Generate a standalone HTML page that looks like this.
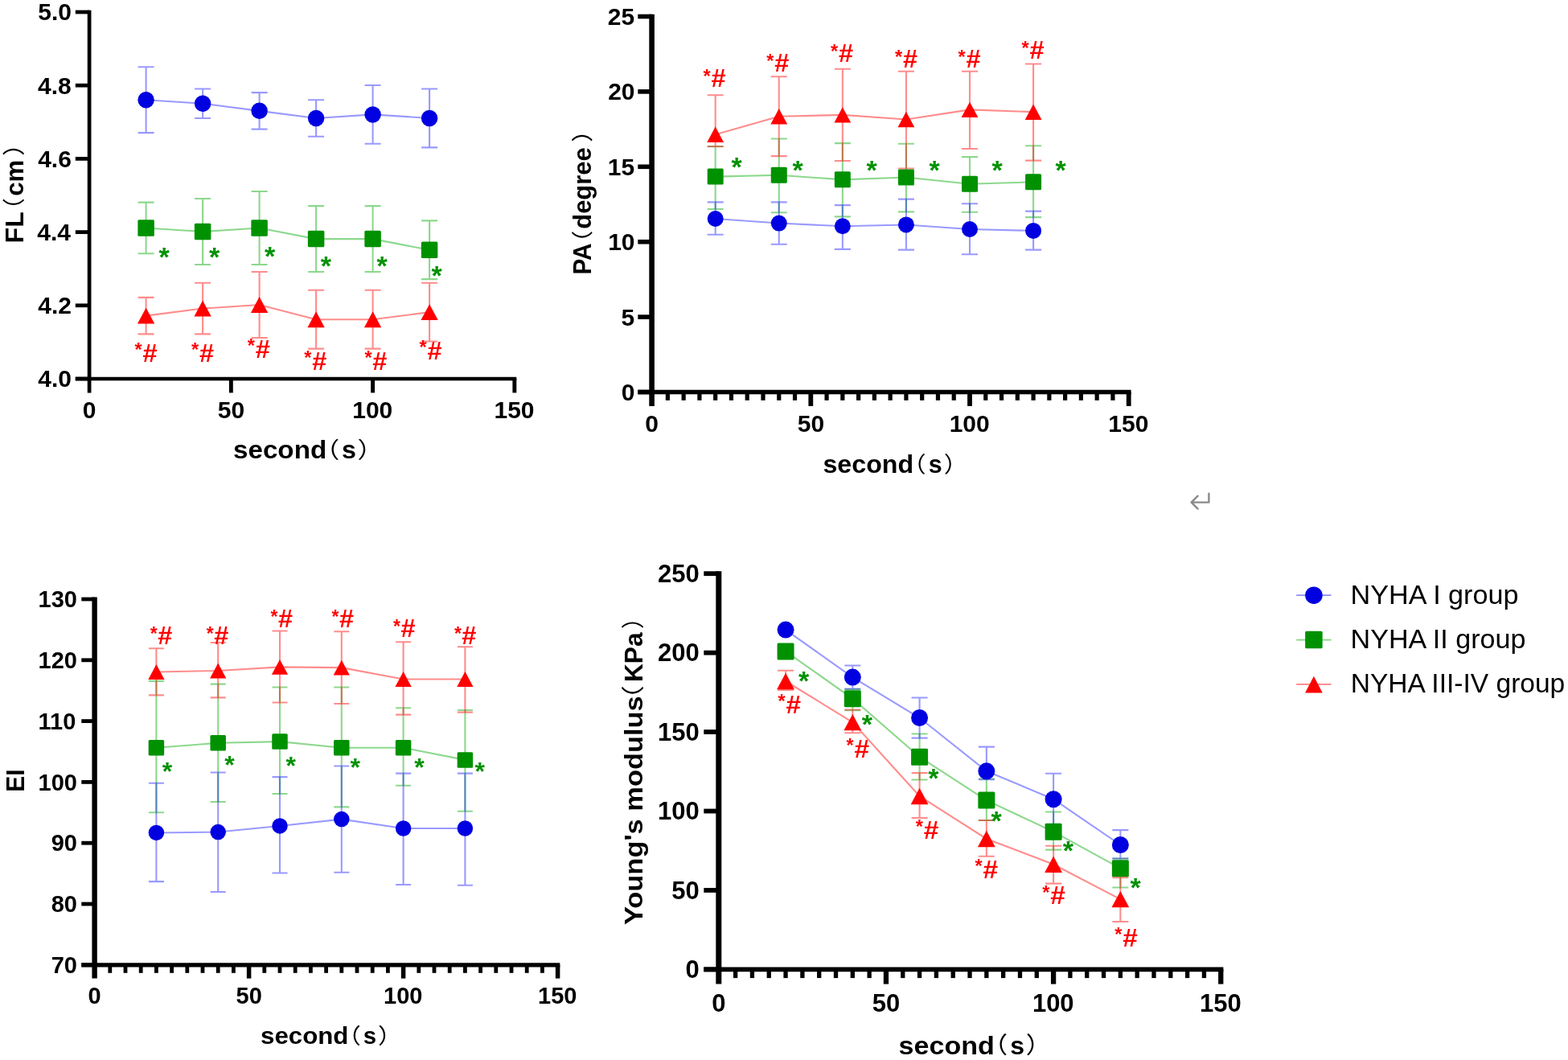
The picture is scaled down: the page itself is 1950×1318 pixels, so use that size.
<!DOCTYPE html><html><head><meta charset="utf-8"><title>Figure</title><style>html,body{margin:0;padding:0;background:#fff;overflow:hidden;}svg{display:block;}</style></head><body>
<svg width="1950" height="1318" viewBox="0 0 1950 1318">
<rect width="1950" height="1318" fill="#fff"/>
<g stroke="#000" fill="none">
<line x1="111.1" y1="12.65" x2="111.1" y2="488.4" stroke-width="4.7"/>
<line x1="93.8" y1="471" x2="642.3" y2="471" stroke-width="4.6"/>
<line x1="93.8" y1="471" x2="111.1" y2="471" stroke-width="4.7"/>
<line x1="93.8" y1="379.8" x2="111.1" y2="379.8" stroke-width="4.7"/>
<line x1="93.8" y1="288.6" x2="111.1" y2="288.6" stroke-width="4.7"/>
<line x1="93.8" y1="197.4" x2="111.1" y2="197.4" stroke-width="4.7"/>
<line x1="93.8" y1="106.2" x2="111.1" y2="106.2" stroke-width="4.7"/>
<line x1="93.8" y1="15" x2="111.1" y2="15" stroke-width="4.7"/>
<line x1="287.35" y1="471" x2="287.35" y2="488.4" stroke-width="4.9"/>
<line x1="463.6" y1="471" x2="463.6" y2="488.4" stroke-width="4.9"/>
<line x1="639.85" y1="471" x2="639.85" y2="488.4" stroke-width="4.9"/>
</g>
<g font-family='"Liberation Sans", Arial, sans-serif' fill="#000">
<text x="47.33" y="481.47" font-size="30" font-weight="bold">4.0</text>
<text x="47.3" y="390.27" font-size="30" font-weight="bold">4.2</text>
<text x="46.26" y="299.07" font-size="30" font-weight="bold">4.4</text>
<text x="47.18" y="207.87" font-size="30" font-weight="bold">4.6</text>
<text x="47.02" y="116.67" font-size="30" font-weight="bold">4.8</text>
<text x="47.33" y="25.47" font-size="30" font-weight="bold">5.0</text>
<text x="102.78" y="520.44" font-size="30" font-weight="bold">0</text>
<text x="270.82" y="520.44" font-size="30" font-weight="bold">50</text>
<text x="438.24" y="520.44" font-size="30" font-weight="bold">100</text>
<text x="614.49" y="520.44" font-size="30" font-weight="bold">150</text>
<text x="290.03" y="569.8" font-size="31" font-weight="bold" textLength="116.15" lengthAdjust="spacingAndGlyphs">second</text>
<text x="390.23" y="568.75" font-size="27.63" font-family='"Liberation Sans", "Noto Sans CJK SC", sans-serif' textLength="32.05" lengthAdjust="spacingAndGlyphs">（</text>
<text x="425.06" y="569.8" font-size="31" font-weight="bold" textLength="17.96" lengthAdjust="spacingAndGlyphs">s</text>
<text x="444.63" y="568.75" font-size="27.63" font-family='"Liberation Sans", "Noto Sans CJK SC", sans-serif' textLength="32.05" lengthAdjust="spacingAndGlyphs">）</text>
</g>
<g transform="translate(28.6,302) rotate(-90)" font-family='"Liberation Sans", Arial, sans-serif' fill="#000">
<text x="-0.44" y="0" font-size="31.5" font-weight="bold" textLength="39.13" lengthAdjust="spacingAndGlyphs">FL</text>
<text x="27.24" y="-0.68" font-size="27.94" font-family='"Liberation Sans", "Noto Sans CJK SC", sans-serif' textLength="28.57" lengthAdjust="spacingAndGlyphs">（</text>
<text x="58.18" y="0" font-size="31.5" font-weight="bold" textLength="45.05" lengthAdjust="spacingAndGlyphs">cm</text>
<text x="107.91" y="-0.68" font-size="27.94" font-family='"Liberation Sans", "Noto Sans CJK SC", sans-serif' textLength="30.12" lengthAdjust="spacingAndGlyphs">）</text>
</g>
<g stroke="#00a800" stroke-opacity="0.45" stroke-width="2.1" fill="none">
<path d="M181.6 251.6V315.3M171.6 251.6H191.6M171.6 315.3H191.6"/>
<path d="M252.1 247.05V328.95M242.1 247.05H262.1M242.1 328.95H262.1"/>
<path d="M322.6 237.95V328.95M312.6 237.95H332.6M312.6 328.95H332.6"/>
<path d="M393.1 256.15V338.05M383.1 256.15H403.1M383.1 338.05H403.1"/>
<path d="M463.6 256.15V338.05M453.6 256.15H473.6M453.6 338.05H473.6"/>
<path d="M534.1 274.35V347.15M524.1 274.35H544.1M524.1 347.15H544.1"/>
<polyline points="181.6,283.45 252.1,288 322.6,283.45 393.1,297.1 463.6,297.1 534.1,310.75"/>
</g>
<g stroke="#ff0000" stroke-opacity="0.45" stroke-width="2.1" fill="none">
<path d="M181.6 369.9V415.4M171.6 369.9H191.6M171.6 415.4H191.6"/>
<path d="M252.1 351.7V415.4M242.1 351.7H262.1M242.1 415.4H262.1"/>
<path d="M322.6 338.05V419.95M312.6 338.05H332.6M312.6 419.95H332.6"/>
<path d="M393.1 360.8V433.6M383.1 360.8H403.1M383.1 433.6H403.1"/>
<path d="M463.6 360.8V433.6M453.6 360.8H473.6M453.6 433.6H473.6"/>
<path d="M534.1 351.7V424.5M524.1 351.7H544.1M524.1 424.5H544.1"/>
<polyline points="181.6,392.65 252.1,383.55 322.6,379 393.1,397.2 463.6,397.2 534.1,388.1"/>
</g>
<g stroke="#0000ff" stroke-opacity="0.4" stroke-width="2.1" fill="none">
<path d="M181.6 83.25V165.15M171.6 83.25H191.6M171.6 165.15H191.6"/>
<path d="M252.1 110.55V146.95M242.1 110.55H262.1M242.1 146.95H262.1"/>
<path d="M322.6 115.1V160.6M312.6 115.1H332.6M312.6 160.6H332.6"/>
<path d="M393.1 124.2V169.7M383.1 124.2H403.1M383.1 169.7H403.1"/>
<path d="M463.6 106V178.8M453.6 106H473.6M453.6 178.8H473.6"/>
<path d="M534.1 110.55V183.35M524.1 110.55H544.1M524.1 183.35H544.1"/>
<polyline points="181.6,124.2 252.1,128.75 322.6,137.85 393.1,146.95 463.6,142.4 534.1,146.95"/>
</g>
<g fill="#0000e0">
<circle cx="181.6" cy="124.2" r="10.25"/>
<circle cx="252.1" cy="128.75" r="10.25"/>
<circle cx="322.6" cy="137.85" r="10.25"/>
<circle cx="393.1" cy="146.95" r="10.25"/>
<circle cx="463.6" cy="142.4" r="10.25"/>
<circle cx="534.1" cy="146.95" r="10.25"/>
</g>
<g fill="#009100">
<rect x="171.35" y="273.2" width="20.5" height="20.5" rx="1.5"/>
<rect x="241.85" y="277.75" width="20.5" height="20.5" rx="1.5"/>
<rect x="312.35" y="273.2" width="20.5" height="20.5" rx="1.5"/>
<rect x="382.85" y="286.85" width="20.5" height="20.5" rx="1.5"/>
<rect x="453.35" y="286.85" width="20.5" height="20.5" rx="1.5"/>
<rect x="523.85" y="300.5" width="20.5" height="20.5" rx="1.5"/>
</g>
<g fill="#ff0000">
<path d="M181.6 382.71L192.26 402.59L170.94 402.59Z"/>
<path d="M252.1 373.61L262.76 393.49L241.44 393.49Z"/>
<path d="M322.6 369.06L333.26 388.94L311.94 388.94Z"/>
<path d="M393.1 387.26L403.76 407.14L382.44 407.14Z"/>
<path d="M463.6 387.26L474.26 407.14L452.94 407.14Z"/>
<path d="M534.1 378.16L544.76 398.04L523.44 398.04Z"/>
</g>
<g font-family='"Liberation Sans", Arial, sans-serif' font-weight="bold" font-size="34" fill="#009100">
<text x="197.4" y="330.89">*</text>
<text x="259.9" y="330.89">*</text>
<text x="329" y="330.39">*</text>
<text x="398.7" y="341.89">*</text>
<text x="468.4" y="341.89">*</text>
<text x="536.6" y="354.39">*</text>
</g>
<g font-family='"Liberation Sans", Arial, sans-serif' font-size="31.5" fill="#ff0000">
<text x="177.45" y="449.95" font-weight="bold" textLength="18.07" lengthAdjust="spacingAndGlyphs">#</text>
<text x="167.5" y="443.17" font-size="23.5" font-weight="bold">*</text>
<text x="247.95" y="449.95" font-weight="bold" textLength="18.07" lengthAdjust="spacingAndGlyphs">#</text>
<text x="238" y="443.17" font-size="23.5" font-weight="bold">*</text>
<text x="317.65" y="445.25" font-weight="bold" textLength="18.07" lengthAdjust="spacingAndGlyphs">#</text>
<text x="307.7" y="438.47" font-size="23.5" font-weight="bold">*</text>
<text x="388.25" y="460.25" font-weight="bold" textLength="18.07" lengthAdjust="spacingAndGlyphs">#</text>
<text x="378.3" y="453.47" font-size="23.5" font-weight="bold">*</text>
<text x="463.35" y="460.25" font-weight="bold" textLength="18.07" lengthAdjust="spacingAndGlyphs">#</text>
<text x="453.4" y="453.47" font-size="23.5" font-weight="bold">*</text>
<text x="531.55" y="446.95" font-weight="bold" textLength="18.07" lengthAdjust="spacingAndGlyphs">#</text>
<text x="521.6" y="440.17" font-size="23.5" font-weight="bold">*</text>
</g>
<g stroke="#000" fill="none">
<line x1="810.6" y1="17.7" x2="810.6" y2="504.9" stroke-width="6.6"/>
<line x1="793.3" y1="487.5" x2="1406.6" y2="487.5" stroke-width="5.6"/>
<line x1="793.3" y1="487.5" x2="810.6" y2="487.5" stroke-width="5.6"/>
<line x1="793.3" y1="394.1" x2="810.6" y2="394.1" stroke-width="5.6"/>
<line x1="793.3" y1="300.7" x2="810.6" y2="300.7" stroke-width="5.6"/>
<line x1="793.3" y1="207.3" x2="810.6" y2="207.3" stroke-width="5.6"/>
<line x1="793.3" y1="113.9" x2="810.6" y2="113.9" stroke-width="5.6"/>
<line x1="793.3" y1="20.5" x2="810.6" y2="20.5" stroke-width="5.6"/>
<line x1="1008.3" y1="487.5" x2="1008.3" y2="504.9" stroke-width="5.8"/>
<line x1="1206" y1="487.5" x2="1206" y2="504.9" stroke-width="5.8"/>
<line x1="1403.7" y1="487.5" x2="1403.7" y2="504.9" stroke-width="5.8"/>
<line x1="830.37" y1="487.5" x2="830.37" y2="497.8" stroke-width="5.2"/>
<line x1="850.14" y1="487.5" x2="850.14" y2="497.8" stroke-width="5.2"/>
<line x1="869.91" y1="487.5" x2="869.91" y2="497.8" stroke-width="5.2"/>
<line x1="889.68" y1="487.5" x2="889.68" y2="497.8" stroke-width="5.2"/>
<line x1="909.45" y1="487.5" x2="909.45" y2="497.8" stroke-width="5.2"/>
<line x1="929.22" y1="487.5" x2="929.22" y2="497.8" stroke-width="5.2"/>
<line x1="948.99" y1="487.5" x2="948.99" y2="497.8" stroke-width="5.2"/>
<line x1="968.76" y1="487.5" x2="968.76" y2="497.8" stroke-width="5.2"/>
<line x1="988.53" y1="487.5" x2="988.53" y2="497.8" stroke-width="5.2"/>
<line x1="1028.07" y1="487.5" x2="1028.07" y2="497.8" stroke-width="5.2"/>
<line x1="1047.84" y1="487.5" x2="1047.84" y2="497.8" stroke-width="5.2"/>
<line x1="1067.61" y1="487.5" x2="1067.61" y2="497.8" stroke-width="5.2"/>
<line x1="1087.38" y1="487.5" x2="1087.38" y2="497.8" stroke-width="5.2"/>
<line x1="1107.15" y1="487.5" x2="1107.15" y2="497.8" stroke-width="5.2"/>
<line x1="1126.92" y1="487.5" x2="1126.92" y2="497.8" stroke-width="5.2"/>
<line x1="1146.69" y1="487.5" x2="1146.69" y2="497.8" stroke-width="5.2"/>
<line x1="1166.46" y1="487.5" x2="1166.46" y2="497.8" stroke-width="5.2"/>
<line x1="1186.23" y1="487.5" x2="1186.23" y2="497.8" stroke-width="5.2"/>
<line x1="1225.77" y1="487.5" x2="1225.77" y2="497.8" stroke-width="5.2"/>
<line x1="1245.54" y1="487.5" x2="1245.54" y2="497.8" stroke-width="5.2"/>
<line x1="1265.31" y1="487.5" x2="1265.31" y2="497.8" stroke-width="5.2"/>
<line x1="1285.08" y1="487.5" x2="1285.08" y2="497.8" stroke-width="5.2"/>
<line x1="1304.85" y1="487.5" x2="1304.85" y2="497.8" stroke-width="5.2"/>
<line x1="1324.62" y1="487.5" x2="1324.62" y2="497.8" stroke-width="5.2"/>
<line x1="1344.39" y1="487.5" x2="1344.39" y2="497.8" stroke-width="5.2"/>
<line x1="1364.16" y1="487.5" x2="1364.16" y2="497.8" stroke-width="5.2"/>
<line x1="1383.93" y1="487.5" x2="1383.93" y2="497.8" stroke-width="5.2"/>
</g>
<g font-family='"Liberation Sans", Arial, sans-serif' fill="#000">
<text x="772.85" y="497.97" font-size="30" font-weight="bold">0</text>
<text x="772.45" y="404.57" font-size="30" font-weight="bold">5</text>
<text x="756.16" y="311.17" font-size="30" font-weight="bold">10</text>
<text x="755.77" y="217.77" font-size="30" font-weight="bold">15</text>
<text x="756.16" y="124.37" font-size="30" font-weight="bold">20</text>
<text x="755.77" y="30.97" font-size="30" font-weight="bold">25</text>
<text x="802.28" y="537.44" font-size="30" font-weight="bold">0</text>
<text x="991.77" y="537.44" font-size="30" font-weight="bold">50</text>
<text x="1180.64" y="537.44" font-size="30" font-weight="bold">100</text>
<text x="1378.34" y="537.44" font-size="30" font-weight="bold">150</text>
<text x="1023.47" y="588" font-size="30.5" font-weight="bold" textLength="112.65" lengthAdjust="spacingAndGlyphs">second</text>
<text x="1121.57" y="587.3" font-size="27.1" font-family='"Liberation Sans", "Noto Sans CJK SC", sans-serif' textLength="30.12" lengthAdjust="spacingAndGlyphs">（</text>
<text x="1154.63" y="588" font-size="30.5" font-weight="bold" textLength="16.92" lengthAdjust="spacingAndGlyphs">s</text>
<text x="1173.83" y="587.3" font-size="27.1" font-family='"Liberation Sans", "Noto Sans CJK SC", sans-serif' textLength="29.73" lengthAdjust="spacingAndGlyphs">）</text>
</g>
<g transform="translate(735.3,341) rotate(-90)" font-family='"Liberation Sans", Arial, sans-serif' fill="#000">
<text x="-0.58" y="0" font-size="31" font-weight="bold" textLength="39.13" lengthAdjust="spacingAndGlyphs">PA</text>
<text x="24.91" y="-0.98" font-size="26.89" font-family='"Liberation Sans", "Noto Sans CJK SC", sans-serif' textLength="29.34" lengthAdjust="spacingAndGlyphs">（</text>
<text x="56.23" y="0" font-size="31" font-weight="bold" textLength="101.53" lengthAdjust="spacingAndGlyphs">degree</text>
<text x="164.23" y="-0.98" font-size="26.89" font-family='"Liberation Sans", "Noto Sans CJK SC", sans-serif' textLength="29.73" lengthAdjust="spacingAndGlyphs">）</text>
</g>
<g stroke="#00a800" stroke-opacity="0.45" stroke-width="2.1" fill="none">
<path d="M889.68 182V259.98M879.68 182H899.68M879.68 259.98H899.68"/>
<path d="M968.76 172.47V264.28M958.76 172.47H978.76M958.76 264.28H978.76"/>
<path d="M1047.84 178.08V269.33M1037.84 178.08H1057.84M1037.84 269.33H1057.84"/>
<path d="M1126.92 178.82V263.35M1116.92 178.82H1136.92M1116.92 263.35H1136.92"/>
<path d="M1206 195.09V263.72M1196 195.09H1216M1196 263.72H1216"/>
<path d="M1285.08 181.25V270.08M1275.08 181.25H1295.08M1275.08 270.08H1295.08"/>
<polyline points="889.68,219.59 968.76,217.72 1047.84,223.33 1126.92,220.53 1206,228.75 1285.08,226.32"/>
</g>
<g stroke="#ff0000" stroke-opacity="0.45" stroke-width="2.1" fill="none">
<path d="M889.68 118.24V182.19M879.68 118.24H899.68M879.68 182.19H899.68"/>
<path d="M968.76 95.24V194.16M958.76 95.24H978.76M958.76 194.16H978.76"/>
<path d="M1047.84 85.7V199.96M1037.84 85.7H1057.84M1037.84 199.96H1057.84"/>
<path d="M1126.92 88.69V209.49M1116.92 88.69H1136.92M1116.92 209.49H1136.92"/>
<path d="M1206 88.69V185M1196 88.69H1216M1196 185H1216"/>
<path d="M1285.08 79.53V199.58M1275.08 79.53H1295.08M1275.08 199.58H1295.08"/>
<polyline points="889.68,167.23 968.76,144.79 1047.84,142.92 1126.92,148.53 1206,136.38 1285.08,139.18"/>
</g>
<g stroke="#0000ff" stroke-opacity="0.4" stroke-width="2.1" fill="none">
<path d="M889.68 251.38V291.77M879.68 251.38H899.68M879.68 291.77H899.68"/>
<path d="M968.76 251.38V303.74M958.76 251.38H978.76M958.76 303.74H978.76"/>
<path d="M1047.84 255.12V309.91M1037.84 255.12H1057.84M1037.84 309.91H1057.84"/>
<path d="M1126.92 247.64V310.66M1116.92 247.64H1136.92M1116.92 310.66H1136.92"/>
<path d="M1206 253.25V316.27M1196 253.25H1216M1196 316.27H1216"/>
<path d="M1285.08 262.6V310.66M1275.08 262.6H1295.08M1275.08 310.66H1295.08"/>
<polyline points="889.68,271.95 968.76,277.56 1047.84,281.3 1126.92,279.43 1206,285.04 1285.08,286.91"/>
</g>
<g fill="#0000e0">
<circle cx="889.68" cy="271.95" r="10"/>
<circle cx="968.76" cy="277.56" r="10"/>
<circle cx="1047.84" cy="281.3" r="10"/>
<circle cx="1126.92" cy="279.43" r="10"/>
<circle cx="1206" cy="285.04" r="10"/>
<circle cx="1285.08" cy="286.91" r="10"/>
</g>
<g fill="#009100">
<rect x="879.68" y="209.59" width="20" height="20" rx="1.5"/>
<rect x="958.76" y="207.72" width="20" height="20" rx="1.5"/>
<rect x="1037.84" y="213.33" width="20" height="20" rx="1.5"/>
<rect x="1116.92" y="210.53" width="20" height="20" rx="1.5"/>
<rect x="1196" y="218.75" width="20" height="20" rx="1.5"/>
<rect x="1275.08" y="216.32" width="20" height="20" rx="1.5"/>
</g>
<g fill="#ff0000">
<path d="M889.68 157.53L900.08 176.93L879.28 176.93Z"/>
<path d="M968.76 135.09L979.16 154.49L958.36 154.49Z"/>
<path d="M1047.84 133.22L1058.24 152.62L1037.44 152.62Z"/>
<path d="M1126.92 138.83L1137.32 158.23L1116.52 158.23Z"/>
<path d="M1206 126.67L1216.4 146.07L1195.6 146.07Z"/>
<path d="M1285.08 129.48L1295.48 148.88L1274.68 148.88Z"/>
</g>
<g font-family='"Liberation Sans", Arial, sans-serif' font-weight="bold" font-size="34" fill="#009100">
<text x="909.4" y="218.89">*</text>
<text x="985.4" y="222.89">*</text>
<text x="1077.4" y="222.89">*</text>
<text x="1155.4" y="222.89">*</text>
<text x="1233.4" y="222.89">*</text>
<text x="1312.4" y="222.89">*</text>
</g>
<g font-family='"Liberation Sans", Arial, sans-serif' font-size="31.5" fill="#ff0000">
<text x="884.45" y="108.45" font-weight="bold" textLength="18.07" lengthAdjust="spacingAndGlyphs">#</text>
<text x="874.5" y="103.17" font-size="23.5" font-weight="bold">*</text>
<text x="963.25" y="89.45" font-weight="bold" textLength="18.07" lengthAdjust="spacingAndGlyphs">#</text>
<text x="953.3" y="84.17" font-size="23.5" font-weight="bold">*</text>
<text x="1042.95" y="76.95" font-weight="bold" textLength="18.07" lengthAdjust="spacingAndGlyphs">#</text>
<text x="1033" y="71.67" font-size="23.5" font-weight="bold">*</text>
<text x="1122.95" y="84.45" font-weight="bold" textLength="18.07" lengthAdjust="spacingAndGlyphs">#</text>
<text x="1113" y="79.17" font-size="23.5" font-weight="bold">*</text>
<text x="1201.45" y="83.95" font-weight="bold" textLength="18.07" lengthAdjust="spacingAndGlyphs">#</text>
<text x="1191.5" y="78.67" font-size="23.5" font-weight="bold">*</text>
<text x="1280.45" y="72.95" font-weight="bold" textLength="18.07" lengthAdjust="spacingAndGlyphs">#</text>
<text x="1270.5" y="67.67" font-size="23.5" font-weight="bold">*</text>
</g>
<g stroke="#000" fill="none">
<line x1="117.6" y1="742.6" x2="117.6" y2="1216.6" stroke-width="6.4"/>
<line x1="101.3" y1="1199.8" x2="696.35" y2="1199.8" stroke-width="5.2"/>
<line x1="101.3" y1="1199.8" x2="117.6" y2="1199.8" stroke-width="4.8"/>
<line x1="101.3" y1="1124" x2="117.6" y2="1124" stroke-width="4.8"/>
<line x1="101.3" y1="1048.2" x2="117.6" y2="1048.2" stroke-width="4.8"/>
<line x1="101.3" y1="972.4" x2="117.6" y2="972.4" stroke-width="4.8"/>
<line x1="101.3" y1="896.6" x2="117.6" y2="896.6" stroke-width="4.8"/>
<line x1="101.3" y1="820.8" x2="117.6" y2="820.8" stroke-width="4.8"/>
<line x1="101.3" y1="745" x2="117.6" y2="745" stroke-width="4.8"/>
<line x1="309.6" y1="1199.8" x2="309.6" y2="1216.6" stroke-width="5.5"/>
<line x1="501.6" y1="1199.8" x2="501.6" y2="1216.6" stroke-width="5.5"/>
<line x1="693.6" y1="1199.8" x2="693.6" y2="1216.6" stroke-width="5.5"/>
<line x1="136.8" y1="1199.8" x2="136.8" y2="1209.8" stroke-width="4.8"/>
<line x1="156" y1="1199.8" x2="156" y2="1209.8" stroke-width="4.8"/>
<line x1="175.2" y1="1199.8" x2="175.2" y2="1209.8" stroke-width="4.8"/>
<line x1="194.4" y1="1199.8" x2="194.4" y2="1209.8" stroke-width="4.8"/>
<line x1="213.6" y1="1199.8" x2="213.6" y2="1209.8" stroke-width="4.8"/>
<line x1="232.8" y1="1199.8" x2="232.8" y2="1209.8" stroke-width="4.8"/>
<line x1="252" y1="1199.8" x2="252" y2="1209.8" stroke-width="4.8"/>
<line x1="271.2" y1="1199.8" x2="271.2" y2="1209.8" stroke-width="4.8"/>
<line x1="290.4" y1="1199.8" x2="290.4" y2="1209.8" stroke-width="4.8"/>
<line x1="328.8" y1="1199.8" x2="328.8" y2="1209.8" stroke-width="4.8"/>
<line x1="348" y1="1199.8" x2="348" y2="1209.8" stroke-width="4.8"/>
<line x1="367.2" y1="1199.8" x2="367.2" y2="1209.8" stroke-width="4.8"/>
<line x1="386.4" y1="1199.8" x2="386.4" y2="1209.8" stroke-width="4.8"/>
<line x1="405.6" y1="1199.8" x2="405.6" y2="1209.8" stroke-width="4.8"/>
<line x1="424.8" y1="1199.8" x2="424.8" y2="1209.8" stroke-width="4.8"/>
<line x1="444" y1="1199.8" x2="444" y2="1209.8" stroke-width="4.8"/>
<line x1="463.2" y1="1199.8" x2="463.2" y2="1209.8" stroke-width="4.8"/>
<line x1="482.4" y1="1199.8" x2="482.4" y2="1209.8" stroke-width="4.8"/>
<line x1="520.8" y1="1199.8" x2="520.8" y2="1209.8" stroke-width="4.8"/>
<line x1="540" y1="1199.8" x2="540" y2="1209.8" stroke-width="4.8"/>
<line x1="559.2" y1="1199.8" x2="559.2" y2="1209.8" stroke-width="4.8"/>
<line x1="578.4" y1="1199.8" x2="578.4" y2="1209.8" stroke-width="4.8"/>
<line x1="597.6" y1="1199.8" x2="597.6" y2="1209.8" stroke-width="4.8"/>
<line x1="616.8" y1="1199.8" x2="616.8" y2="1209.8" stroke-width="4.8"/>
<line x1="636" y1="1199.8" x2="636" y2="1209.8" stroke-width="4.8"/>
<line x1="655.2" y1="1199.8" x2="655.2" y2="1209.8" stroke-width="4.8"/>
<line x1="674.4" y1="1199.8" x2="674.4" y2="1209.8" stroke-width="4.8"/>
</g>
<g font-family='"Liberation Sans", Arial, sans-serif' fill="#000">
<text x="63.63" y="1209.92" font-size="29" font-weight="bold">70</text>
<text x="63.63" y="1134.12" font-size="29" font-weight="bold">80</text>
<text x="63.63" y="1058.32" font-size="29" font-weight="bold">90</text>
<text x="47.5" y="982.52" font-size="29" font-weight="bold">100</text>
<text x="47.5" y="906.72" font-size="29" font-weight="bold">110</text>
<text x="47.5" y="830.92" font-size="29" font-weight="bold">120</text>
<text x="47.5" y="755.12" font-size="29" font-weight="bold">130</text>
<text x="109.56" y="1248.44" font-size="29" font-weight="bold">0</text>
<text x="293.62" y="1248.44" font-size="29" font-weight="bold">50</text>
<text x="477.09" y="1248.44" font-size="29" font-weight="bold">100</text>
<text x="669.09" y="1248.44" font-size="29" font-weight="bold">150</text>
<text x="324.1" y="1297.5" font-size="29.5" font-weight="bold" textLength="109.36" lengthAdjust="spacingAndGlyphs">second</text>
<text x="418.77" y="1296.76" font-size="26.47" font-family='"Liberation Sans", "Noto Sans CJK SC", sans-serif' textLength="30.12" lengthAdjust="spacingAndGlyphs">（</text>
<text x="451.87" y="1297.5" font-size="29.5" font-weight="bold" textLength="16.34" lengthAdjust="spacingAndGlyphs">s</text>
<text x="470.01" y="1296.76" font-size="26.47" font-family='"Liberation Sans", "Noto Sans CJK SC", sans-serif' textLength="30.12" lengthAdjust="spacingAndGlyphs">）</text>
</g>
<g transform="translate(29.7,984) rotate(-90)" font-family='"Liberation Sans", Arial, sans-serif' fill="#000">
<text x="-0.8" y="0" font-size="30.5" font-weight="bold" textLength="28.31" lengthAdjust="spacingAndGlyphs">EI</text>
</g>
<g stroke="#00a800" stroke-opacity="0.45" stroke-width="2.1" fill="none">
<path d="M194.4 846.85V1010.25M184.9 846.85H203.9M184.9 1010.25H203.9"/>
<path d="M271.2 850.65V996.95M261.7 850.65H280.7M261.7 996.95H280.7"/>
<path d="M348 854.45V987.07M338.5 854.45H357.5M338.5 987.07H357.5"/>
<path d="M424.8 854.45V1003.41M415.3 854.45H434.3M415.3 1003.41H434.3"/>
<path d="M501.6 880.29V976.81M492.1 880.29H511.1M492.1 976.81H511.1"/>
<path d="M578.4 882.95V1008.73M568.9 882.95H587.9M568.9 1008.73H587.9"/>
<polyline points="194.4,929.69 271.2,923.76 348,922.09 424.8,929.69 501.6,929.69 578.4,944.89"/>
</g>
<g stroke="#ff0000" stroke-opacity="0.45" stroke-width="2.1" fill="none">
<path d="M194.4 806.27V864.33M184.9 806.27H203.9M184.9 864.33H203.9"/>
<path d="M271.2 798.97V867.37M261.7 798.97H280.7M261.7 867.37H280.7"/>
<path d="M348 784.53V873.45M338.5 784.53H357.5M338.5 873.45H357.5"/>
<path d="M424.8 785.29V874.97M415.3 785.29H434.3M415.3 874.97H434.3"/>
<path d="M501.6 798.21V888.65M492.1 798.21H511.1M492.1 888.65H511.1"/>
<path d="M578.4 804.29V885.61M568.9 804.29H587.9M568.9 885.61H587.9"/>
<polyline points="194.4,835.45 271.2,833.93 348,829.37 424.8,830.13 501.6,844.57 578.4,844.57"/>
</g>
<g stroke="#0000ff" stroke-opacity="0.4" stroke-width="2.1" fill="none">
<path d="M194.4 973.77V1096.13M184.9 973.77H203.9M184.9 1096.13H203.9"/>
<path d="M271.2 960.47V1109.05M261.7 960.47H280.7M261.7 1109.05H280.7"/>
<path d="M348 966.17V1085.49M338.5 966.17H357.5M338.5 1085.49H357.5"/>
<path d="M424.8 952.49V1084.73M415.3 952.49H434.3M415.3 1084.73H434.3"/>
<path d="M501.6 961.61V1099.93M492.1 961.61H511.1M492.1 1099.93H511.1"/>
<path d="M578.4 961.61V1100.69M568.9 961.61H587.9M568.9 1100.69H587.9"/>
<polyline points="194.4,1035.48 271.2,1034.57 348,1026.97 424.8,1018.61 501.6,1030.01 578.4,1030.01"/>
</g>
<g fill="#0000e0">
<circle cx="194.4" cy="1035.48" r="9.75"/>
<circle cx="271.2" cy="1034.57" r="9.75"/>
<circle cx="348" cy="1026.97" r="9.75"/>
<circle cx="424.8" cy="1018.61" r="9.75"/>
<circle cx="501.6" cy="1030.01" r="9.75"/>
<circle cx="578.4" cy="1030.01" r="9.75"/>
</g>
<g fill="#009100">
<rect x="184.65" y="919.94" width="19.5" height="19.5" rx="1.5"/>
<rect x="261.45" y="914.01" width="19.5" height="19.5" rx="1.5"/>
<rect x="338.25" y="912.34" width="19.5" height="19.5" rx="1.5"/>
<rect x="415.05" y="919.94" width="19.5" height="19.5" rx="1.5"/>
<rect x="491.85" y="919.94" width="19.5" height="19.5" rx="1.5"/>
<rect x="568.65" y="935.14" width="19.5" height="19.5" rx="1.5"/>
</g>
<g fill="#ff0000">
<path d="M194.4 825.99L204.54 844.91L184.26 844.91Z"/>
<path d="M271.2 824.47L281.34 843.39L261.06 843.39Z"/>
<path d="M348 819.91L358.14 838.83L337.86 838.83Z"/>
<path d="M424.8 820.67L434.94 839.59L414.66 839.59Z"/>
<path d="M501.6 835.11L511.74 854.03L491.46 854.03Z"/>
<path d="M578.4 835.11L588.54 854.03L568.26 854.03Z"/>
</g>
<g font-family='"Liberation Sans", Arial, sans-serif' font-weight="bold" font-size="32" fill="#009100">
<text x="201.7" y="970.32">*</text>
<text x="279.2" y="961.52">*</text>
<text x="355.4" y="963.02">*</text>
<text x="435.4" y="964.52">*</text>
<text x="515.2" y="964.52">*</text>
<text x="590.4" y="970.02">*</text>
</g>
<g font-family='"Liberation Sans", Arial, sans-serif' font-size="31" fill="#ff0000">
<text x="196.25" y="801.11" font-weight="bold" textLength="18.07" lengthAdjust="spacingAndGlyphs">#</text>
<text x="186.8" y="795.82" font-size="23" font-weight="bold">*</text>
<text x="266.25" y="801.11" font-weight="bold" textLength="18.07" lengthAdjust="spacingAndGlyphs">#</text>
<text x="256.8" y="795.82" font-size="23" font-weight="bold">*</text>
<text x="345.95" y="780.21" font-weight="bold" textLength="18.07" lengthAdjust="spacingAndGlyphs">#</text>
<text x="336.5" y="774.92" font-size="23" font-weight="bold">*</text>
<text x="421.95" y="780.21" font-weight="bold" textLength="18.07" lengthAdjust="spacingAndGlyphs">#</text>
<text x="412.5" y="774.92" font-size="23" font-weight="bold">*</text>
<text x="498.45" y="791.91" font-weight="bold" textLength="18.07" lengthAdjust="spacingAndGlyphs">#</text>
<text x="489" y="786.62" font-size="23" font-weight="bold">*</text>
<text x="574.35" y="801.31" font-weight="bold" textLength="18.07" lengthAdjust="spacingAndGlyphs">#</text>
<text x="564.9" y="796.02" font-size="23" font-weight="bold">*</text>
</g>
<g stroke="#000" fill="none">
<line x1="893.8" y1="710.3" x2="893.8" y2="1223.6" stroke-width="7.0"/>
<line x1="875.3" y1="1205.4" x2="1521.4" y2="1205.4" stroke-width="5.6"/>
<line x1="875.3" y1="1205.4" x2="893.8" y2="1205.4" stroke-width="5.8"/>
<line x1="875.3" y1="1106.96" x2="893.8" y2="1106.96" stroke-width="5.8"/>
<line x1="875.3" y1="1008.52" x2="893.8" y2="1008.52" stroke-width="5.8"/>
<line x1="875.3" y1="910.08" x2="893.8" y2="910.08" stroke-width="5.8"/>
<line x1="875.3" y1="811.64" x2="893.8" y2="811.64" stroke-width="5.8"/>
<line x1="875.3" y1="713.2" x2="893.8" y2="713.2" stroke-width="5.8"/>
<line x1="1101.95" y1="1205.4" x2="1101.95" y2="1223.6" stroke-width="6.3"/>
<line x1="1310.1" y1="1205.4" x2="1310.1" y2="1223.6" stroke-width="6.3"/>
<line x1="1518.25" y1="1205.4" x2="1518.25" y2="1223.6" stroke-width="6.3"/>
<line x1="914.62" y1="1205.4" x2="914.62" y2="1216.1" stroke-width="5.3"/>
<line x1="935.43" y1="1205.4" x2="935.43" y2="1216.1" stroke-width="5.3"/>
<line x1="956.25" y1="1205.4" x2="956.25" y2="1216.1" stroke-width="5.3"/>
<line x1="977.06" y1="1205.4" x2="977.06" y2="1216.1" stroke-width="5.3"/>
<line x1="997.88" y1="1205.4" x2="997.88" y2="1216.1" stroke-width="5.3"/>
<line x1="1018.69" y1="1205.4" x2="1018.69" y2="1216.1" stroke-width="5.3"/>
<line x1="1039.5" y1="1205.4" x2="1039.5" y2="1216.1" stroke-width="5.3"/>
<line x1="1060.32" y1="1205.4" x2="1060.32" y2="1216.1" stroke-width="5.3"/>
<line x1="1081.13" y1="1205.4" x2="1081.13" y2="1216.1" stroke-width="5.3"/>
<line x1="1122.76" y1="1205.4" x2="1122.76" y2="1216.1" stroke-width="5.3"/>
<line x1="1143.58" y1="1205.4" x2="1143.58" y2="1216.1" stroke-width="5.3"/>
<line x1="1164.39" y1="1205.4" x2="1164.39" y2="1216.1" stroke-width="5.3"/>
<line x1="1185.21" y1="1205.4" x2="1185.21" y2="1216.1" stroke-width="5.3"/>
<line x1="1206.03" y1="1205.4" x2="1206.03" y2="1216.1" stroke-width="5.3"/>
<line x1="1226.84" y1="1205.4" x2="1226.84" y2="1216.1" stroke-width="5.3"/>
<line x1="1247.65" y1="1205.4" x2="1247.65" y2="1216.1" stroke-width="5.3"/>
<line x1="1268.47" y1="1205.4" x2="1268.47" y2="1216.1" stroke-width="5.3"/>
<line x1="1289.28" y1="1205.4" x2="1289.28" y2="1216.1" stroke-width="5.3"/>
<line x1="1330.91" y1="1205.4" x2="1330.91" y2="1216.1" stroke-width="5.3"/>
<line x1="1351.73" y1="1205.4" x2="1351.73" y2="1216.1" stroke-width="5.3"/>
<line x1="1372.55" y1="1205.4" x2="1372.55" y2="1216.1" stroke-width="5.3"/>
<line x1="1393.36" y1="1205.4" x2="1393.36" y2="1216.1" stroke-width="5.3"/>
<line x1="1414.17" y1="1205.4" x2="1414.17" y2="1216.1" stroke-width="5.3"/>
<line x1="1434.99" y1="1205.4" x2="1434.99" y2="1216.1" stroke-width="5.3"/>
<line x1="1455.8" y1="1205.4" x2="1455.8" y2="1216.1" stroke-width="5.3"/>
<line x1="1476.62" y1="1205.4" x2="1476.62" y2="1216.1" stroke-width="5.3"/>
<line x1="1497.43" y1="1205.4" x2="1497.43" y2="1216.1" stroke-width="5.3"/>
</g>
<g font-family='"Liberation Sans", Arial, sans-serif' fill="#000">
<text x="852.53" y="1216.22" font-size="31" font-weight="bold">0</text>
<text x="835.29" y="1117.78" font-size="31" font-weight="bold">50</text>
<text x="818.05" y="1019.34" font-size="31" font-weight="bold">100</text>
<text x="818.05" y="920.9" font-size="31" font-weight="bold">150</text>
<text x="818.05" y="822.46" font-size="31" font-weight="bold">200</text>
<text x="818.05" y="724.02" font-size="31" font-weight="bold">250</text>
<text x="885.2" y="1257.64" font-size="31" font-weight="bold">0</text>
<text x="1084.87" y="1257.64" font-size="31" font-weight="bold">50</text>
<text x="1283.9" y="1257.64" font-size="31" font-weight="bold">100</text>
<text x="1492.05" y="1257.64" font-size="31" font-weight="bold">150</text>
<text x="1117.6" y="1311.1" font-size="31.5" font-weight="bold" textLength="119.24" lengthAdjust="spacingAndGlyphs">second</text>
<text x="1221.5" y="1310.36" font-size="28.57" font-family='"Liberation Sans", "Noto Sans CJK SC", sans-serif' textLength="31.66" lengthAdjust="spacingAndGlyphs">（</text>
<text x="1256.17" y="1311.1" font-size="31.5" font-weight="bold" textLength="17.84" lengthAdjust="spacingAndGlyphs">s</text>
<text x="1275.84" y="1310.36" font-size="28.57" font-family='"Liberation Sans", "Noto Sans CJK SC", sans-serif' textLength="31.66" lengthAdjust="spacingAndGlyphs">）</text>
</g>
<g transform="translate(799,1151) rotate(-90)" font-family='"Liberation Sans", Arial, sans-serif' fill="#000">
<text x="0.92" y="0" font-size="32" font-weight="bold" textLength="284.78" lengthAdjust="spacingAndGlyphs">Young&#39;s modulus</text>
<text x="264.42" y="-0.83" font-size="28.47" font-family='"Liberation Sans", "Noto Sans CJK SC", sans-serif' textLength="34.36" lengthAdjust="spacingAndGlyphs">（</text>
<text x="302.88" y="0" font-size="32" font-weight="bold" textLength="61.62" lengthAdjust="spacingAndGlyphs">KPa</text>
<text x="369" y="-0.83" font-size="28.47" font-family='"Liberation Sans", "Noto Sans CJK SC", sans-serif' textLength="28.19" lengthAdjust="spacingAndGlyphs">）</text>
</g>
<g stroke="#00a800" stroke-opacity="0.45" stroke-width="2.1" fill="none">
<path d="M977.06 809.92V809.92M967.06 809.92H987.06M967.06 809.92H987.06"/>
<path d="M1060.32 857.05V883.28M1050.32 857.05H1070.32M1050.32 883.28H1070.32"/>
<path d="M1143.58 912.46V969.45M1133.58 912.46H1153.58M1133.58 969.45H1153.58"/>
<path d="M1226.84 968.47V1019.93M1216.84 968.47H1236.84M1216.84 1019.93H1236.84"/>
<path d="M1310.1 1009.48V1056.61M1300.1 1009.48H1320.1M1300.1 1056.61H1320.1"/>
<path d="M1393.36 1067.46V1103.55M1383.36 1067.46H1403.36M1383.36 1103.55H1403.36"/>
<polyline points="977.06,809.92 1060.32,868.68 1143.58,941.25 1226.84,995.09 1310.1,1034.13 1393.36,1079.69"/>
</g>
<g stroke="#ff0000" stroke-opacity="0.45" stroke-width="2.1" fill="none">
<path d="M977.06 833.78V858.03M967.06 833.78H987.06M967.06 858.03H987.06"/>
<path d="M1060.32 882.49V911.28M1050.32 882.49H1070.32M1050.32 911.28H1070.32"/>
<path d="M1143.58 961.17V1016.98M1133.58 961.17H1153.58M1133.58 1016.98H1153.58"/>
<path d="M1226.84 1019.93V1064.7M1216.84 1019.93H1236.84M1216.84 1064.7H1236.84"/>
<path d="M1310.1 1051.68V1098.62M1300.1 1051.68H1320.1M1300.1 1098.62H1320.1"/>
<path d="M1393.36 1091.12V1145.95M1383.36 1091.12H1403.36M1383.36 1145.95H1403.36"/>
<polyline points="977.06,846.99 1060.32,898.07 1143.58,989.96 1226.84,1043.01 1310.1,1074.76 1393.36,1118.14"/>
</g>
<g stroke="#0000ff" stroke-opacity="0.4" stroke-width="2.1" fill="none">
<path d="M977.06 783.1V783.1M967.06 783.1H987.06M967.06 783.1H987.06"/>
<path d="M1060.32 827.47V856.46M1050.32 827.47H1070.32M1050.32 856.46H1070.32"/>
<path d="M1143.58 867.5V917.59M1133.58 867.5H1153.58M1133.58 917.59H1153.58"/>
<path d="M1226.84 928.63V969.25M1216.84 928.63H1236.84M1216.84 969.25H1236.84"/>
<path d="M1310.1 961.76V1025.06M1300.1 961.76H1320.1M1300.1 1025.06H1320.1"/>
<path d="M1393.36 1032.16V1067.46M1383.36 1032.16H1403.36M1383.36 1067.46H1403.36"/>
<polyline points="977.06,783.1 1060.32,842.06 1143.58,892.54 1226.84,958.8 1310.1,993.71 1393.36,1050.5"/>
</g>
<g fill="#0000e0">
<circle cx="977.06" cy="783.1" r="10.5"/>
<circle cx="1060.32" cy="842.06" r="10.5"/>
<circle cx="1143.58" cy="892.54" r="10.5"/>
<circle cx="1226.84" cy="958.8" r="10.5"/>
<circle cx="1310.1" cy="993.71" r="10.5"/>
<circle cx="1393.36" cy="1050.5" r="10.5"/>
</g>
<g fill="#009100">
<rect x="966.56" y="799.42" width="21" height="21" rx="1.5"/>
<rect x="1049.82" y="858.18" width="21" height="21" rx="1.5"/>
<rect x="1133.08" y="930.75" width="21" height="21" rx="1.5"/>
<rect x="1216.34" y="984.59" width="21" height="21" rx="1.5"/>
<rect x="1299.6" y="1023.63" width="21" height="21" rx="1.5"/>
<rect x="1382.86" y="1069.19" width="21" height="21" rx="1.5"/>
</g>
<g fill="#ff0000">
<path d="M977.06 836.81L987.98 857.18L966.14 857.18Z"/>
<path d="M1060.32 887.88L1071.24 908.25L1049.4 908.25Z"/>
<path d="M1143.58 979.78L1154.5 1000.15L1132.66 1000.15Z"/>
<path d="M1226.84 1032.82L1237.76 1053.19L1215.92 1053.19Z"/>
<path d="M1310.1 1064.57L1321.02 1084.94L1299.18 1084.94Z"/>
<path d="M1393.36 1107.96L1404.28 1128.33L1382.44 1128.33Z"/>
</g>
<g font-family='"Liberation Sans", Arial, sans-serif' font-weight="bold" font-size="34" fill="#009100">
<text x="992.9" y="857.89">*</text>
<text x="1071.7" y="911.69">*</text>
<text x="1154.2" y="979.19">*</text>
<text x="1232.4" y="1031.69">*</text>
<text x="1321.7" y="1069.19">*</text>
<text x="1405.4" y="1115.39">*</text>
</g>
<g font-family='"Liberation Sans", Arial, sans-serif' font-size="31.5" fill="#ff0000">
<text x="977.43" y="886.95" font-weight="bold" textLength="18.6" lengthAdjust="spacingAndGlyphs">#</text>
<text x="967.5" y="880.17" font-size="23.5" font-weight="bold">*</text>
<text x="1062.43" y="941.95" font-weight="bold" textLength="18.6" lengthAdjust="spacingAndGlyphs">#</text>
<text x="1052.5" y="935.17" font-size="23.5" font-weight="bold">*</text>
<text x="1148.73" y="1043.25" font-weight="bold" textLength="18.6" lengthAdjust="spacingAndGlyphs">#</text>
<text x="1138.8" y="1036.47" font-size="23.5" font-weight="bold">*</text>
<text x="1222.43" y="1091.95" font-weight="bold" textLength="18.6" lengthAdjust="spacingAndGlyphs">#</text>
<text x="1212.5" y="1085.17" font-size="23.5" font-weight="bold">*</text>
<text x="1306.23" y="1124.45" font-weight="bold" textLength="18.6" lengthAdjust="spacingAndGlyphs">#</text>
<text x="1296.3" y="1117.67" font-size="23.5" font-weight="bold">*</text>
<text x="1396.23" y="1176.95" font-weight="bold" textLength="18.6" lengthAdjust="spacingAndGlyphs">#</text>
<text x="1386.3" y="1170.17" font-size="23.5" font-weight="bold">*</text>
</g>
<g font-family='"Liberation Sans", Arial, sans-serif' fill="#000">
<line x1="1612.2" y1="740.2" x2="1655.5" y2="740.2" stroke="#8c8cff" stroke-width="1.8"/>
<circle cx="1633.9" cy="740.2" r="10.75" fill="#0000e0"/>
<text x="1679.62" y="750.8" font-size="33.3" textLength="208.9" lengthAdjust="spacingAndGlyphs">NYHA I group</text>
<line x1="1612.2" y1="795.6" x2="1655.5" y2="795.6" stroke="#7fd67f" stroke-width="1.8"/>
<rect x="1623.15" y="784.85" width="21.5" height="21.5" rx="1.5" fill="#009100"/>
<text x="1679.63" y="805.6" font-size="33.3" textLength="217.79" lengthAdjust="spacingAndGlyphs">NYHA II group</text>
<line x1="1612.2" y1="850.8" x2="1655.5" y2="850.8" stroke="#ff7f7f" stroke-width="1.8"/>
<path d="M1633.9 840.7L1644.7 861.5L1623.1 861.5Z" fill="#ff0000"/>
<text x="1679.67" y="860.6" font-size="33.3" textLength="266.63" lengthAdjust="spacingAndGlyphs">NYHA III-IV group</text>
</g>
<path d="M1503.4 613.8V624.6H1481.6M1489.6 616.7L1481.6 624.6L1489.6 632.6" stroke="#8a8a8a" stroke-width="2.4" fill="none" stroke-linecap="round" stroke-linejoin="round"/>
</svg></body></html>
